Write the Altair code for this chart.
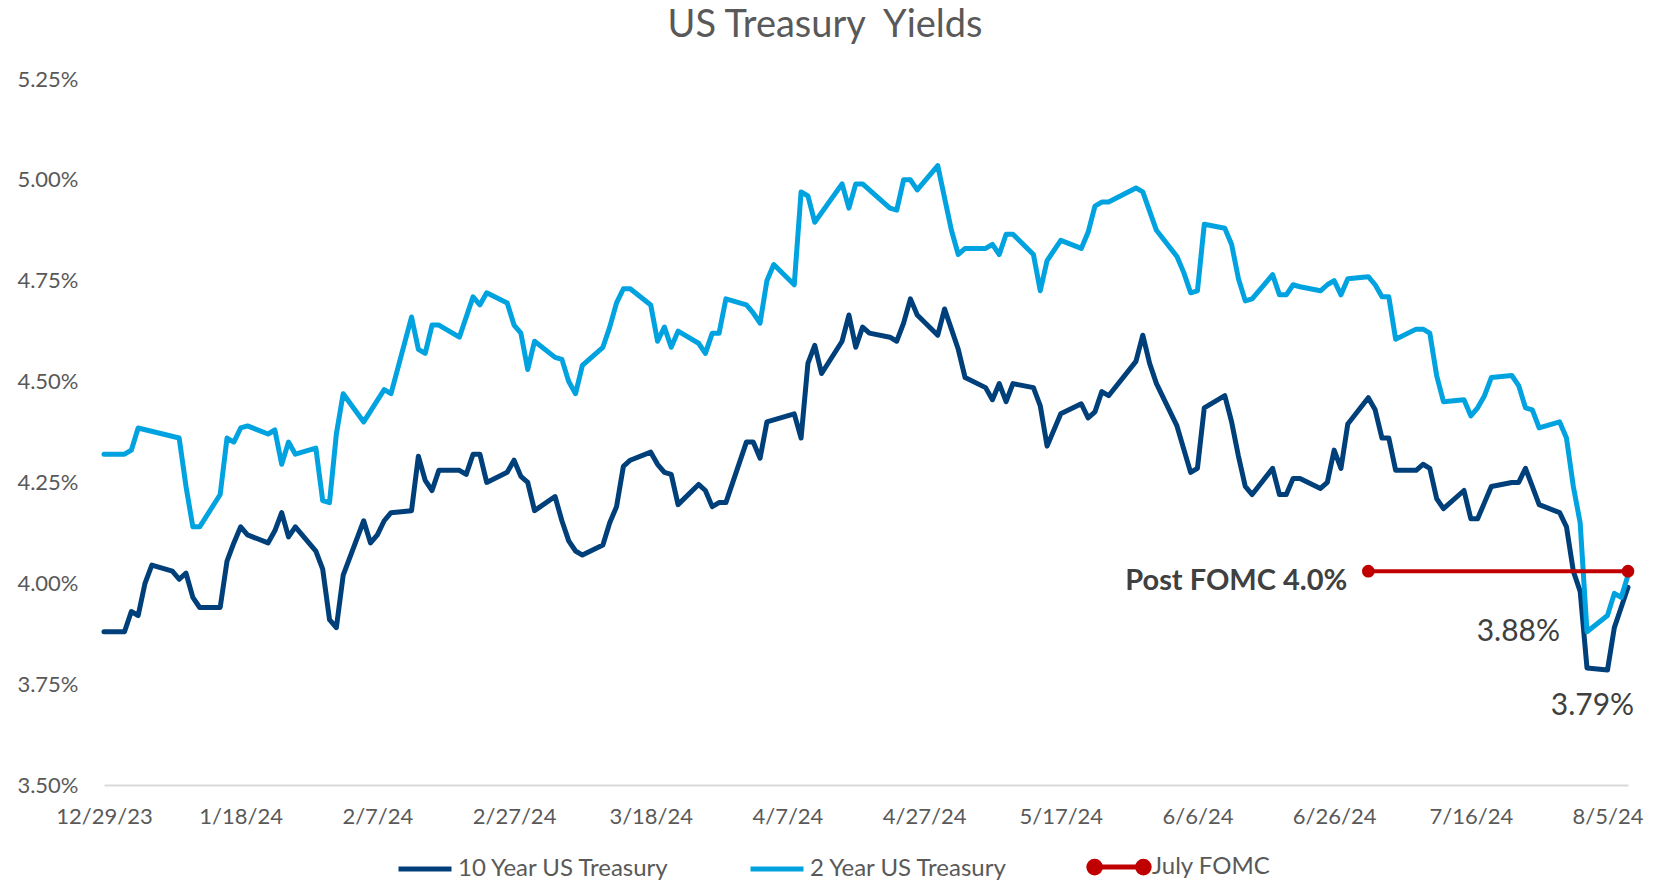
import altair as alt
import pandas as pd

# ---------------- data ----------------
dates_10y = [
    "2023-12-29", "2024-01-01", "2024-01-02", "2024-01-03", "2024-01-04", "2024-01-05",
    "2024-01-08", "2024-01-09", "2024-01-10", "2024-01-11", "2024-01-12", "2024-01-15",
    "2024-01-16", "2024-01-17", "2024-01-18", "2024-01-19", "2024-01-22", "2024-01-23",
    "2024-01-24", "2024-01-25", "2024-01-26", "2024-01-29", "2024-01-30", "2024-01-31",
    "2024-02-01", "2024-02-02", "2024-02-05", "2024-02-06", "2024-02-07", "2024-02-08",
    "2024-02-09", "2024-02-12", "2024-02-13", "2024-02-14", "2024-02-15", "2024-02-16",
    "2024-02-19", "2024-02-20", "2024-02-21", "2024-02-22", "2024-02-23", "2024-02-26",
    "2024-02-27", "2024-02-28", "2024-02-29",
    "2024-03-01", "2024-03-04", "2024-03-05", "2024-03-06", "2024-03-07", "2024-03-08",
    "2024-03-11", "2024-03-12", "2024-03-13", "2024-03-14", "2024-03-15", "2024-03-18",
    "2024-03-19", "2024-03-20", "2024-03-21", "2024-03-22", "2024-03-25", "2024-03-26",
    "2024-03-27", "2024-03-28", "2024-03-29",
    "2024-04-01", "2024-04-02", "2024-04-03", "2024-04-04", "2024-04-05", "2024-04-08",
    "2024-04-09", "2024-04-10", "2024-04-11", "2024-04-12", "2024-04-15", "2024-04-16",
    "2024-04-17", "2024-04-18", "2024-04-19", "2024-04-22", "2024-04-23", "2024-04-24",
    "2024-04-25", "2024-04-26", "2024-04-29", "2024-04-30",
    "2024-05-01", "2024-05-02", "2024-05-03", "2024-05-06", "2024-05-07", "2024-05-08",
    "2024-05-09", "2024-05-10", "2024-05-13", "2024-05-14", "2024-05-15", "2024-05-17",
    "2024-05-20", "2024-05-21", "2024-05-22", "2024-05-23", "2024-05-24", "2024-05-28",
    "2024-05-29", "2024-05-30", "2024-05-31",
    "2024-06-03", "2024-06-05", "2024-06-06", "2024-06-07", "2024-06-10", "2024-06-11",
    "2024-06-12", "2024-06-13", "2024-06-14", "2024-06-17", "2024-06-18", "2024-06-19",
    "2024-06-20", "2024-06-21", "2024-06-24", "2024-06-25", "2024-06-26", "2024-06-27",
    "2024-06-28",
    "2024-07-01", "2024-07-02", "2024-07-03", "2024-07-04", "2024-07-05", "2024-07-08",
    "2024-07-09", "2024-07-10", "2024-07-11", "2024-07-12", "2024-07-15", "2024-07-16",
    "2024-07-17", "2024-07-18", "2024-07-19", "2024-07-22", "2024-07-23", "2024-07-24",
    "2024-07-25", "2024-07-26", "2024-07-29", "2024-07-30", "2024-07-31",
    "2024-08-01", "2024-08-02", "2024-08-05", "2024-08-06", "2024-08-07", "2024-08-08",
]
yields_10y = [
    3.88, 3.88, 3.93, 3.92, 4.00, 4.045, 4.03, 4.01, 4.025, 3.965, 3.94, 3.94,
    4.055, 4.10, 4.14, 4.12, 4.10, 4.13, 4.175, 4.115, 4.14, 4.08, 4.035, 3.91,
    3.89, 4.02, 4.155, 4.10, 4.12, 4.155, 4.175, 4.18, 4.315, 4.255, 4.23, 4.28,
    4.28, 4.27, 4.32, 4.32, 4.25, 4.275, 4.305, 4.265, 4.25,
    4.18, 4.215, 4.155, 4.105, 4.08, 4.07, 4.095, 4.15, 4.19, 4.29, 4.305, 4.325,
    4.295, 4.275, 4.27, 4.195, 4.245, 4.23, 4.19, 4.20, 4.20,
    4.35, 4.35, 4.31, 4.40, 4.405, 4.42, 4.36, 4.545, 4.59, 4.52, 4.60, 4.665,
    4.585, 4.635, 4.62, 4.61, 4.60, 4.645, 4.705, 4.665, 4.615, 4.68,
    4.63, 4.58, 4.51, 4.485, 4.455, 4.495, 4.45, 4.495, 4.485, 4.44, 4.34, 4.42,
    4.445, 4.41, 4.425, 4.475, 4.465, 4.55, 4.615, 4.545, 4.495,
    4.39, 4.275, 4.285, 4.435, 4.465, 4.40, 4.315, 4.24, 4.22, 4.285, 4.22, 4.22,
    4.26, 4.26, 4.235, 4.25, 4.33, 4.285, 4.395,
    4.46, 4.43, 4.36, 4.36, 4.28, 4.28, 4.295, 4.285, 4.21, 4.185, 4.23, 4.16,
    4.16, 4.20, 4.24, 4.25, 4.25, 4.285, 4.24, 4.195, 4.175, 4.14, 4.03,
    3.98, 3.79, 3.785, 3.89, 3.94, 3.99,
]

dates_2y = [
    "2023-12-29", "2024-01-01", "2024-01-02", "2024-01-03", "2024-01-09", "2024-01-10",
    "2024-01-11", "2024-01-12", "2024-01-15", "2024-01-16", "2024-01-17", "2024-01-18",
    "2024-01-19", "2024-01-22", "2024-01-23", "2024-01-24", "2024-01-25", "2024-01-26",
    "2024-01-29", "2024-01-30", "2024-01-31",
    "2024-02-01", "2024-02-02", "2024-02-05", "2024-02-08", "2024-02-09", "2024-02-12",
    "2024-02-13", "2024-02-14", "2024-02-15", "2024-02-16", "2024-02-19", "2024-02-21",
    "2024-02-22", "2024-02-23", "2024-02-26", "2024-02-27", "2024-02-28", "2024-02-29",
    "2024-03-01", "2024-03-04", "2024-03-05", "2024-03-06", "2024-03-07", "2024-03-08",
    "2024-03-11", "2024-03-12", "2024-03-13", "2024-03-14", "2024-03-15", "2024-03-18",
    "2024-03-19", "2024-03-20", "2024-03-21", "2024-03-22", "2024-03-25", "2024-03-26",
    "2024-03-27", "2024-03-28", "2024-03-29",
    "2024-04-01", "2024-04-02", "2024-04-03", "2024-04-04", "2024-04-05", "2024-04-08",
    "2024-04-09", "2024-04-10", "2024-04-11", "2024-04-15", "2024-04-16", "2024-04-17",
    "2024-04-18", "2024-04-22", "2024-04-23", "2024-04-24", "2024-04-25", "2024-04-26",
    "2024-04-29",
    "2024-05-01", "2024-05-02", "2024-05-03", "2024-05-06", "2024-05-07", "2024-05-08",
    "2024-05-09", "2024-05-10", "2024-05-13", "2024-05-14", "2024-05-15", "2024-05-17",
    "2024-05-20", "2024-05-21", "2024-05-22", "2024-05-23", "2024-05-24", "2024-05-28",
    "2024-05-29", "2024-05-31",
    "2024-06-03", "2024-06-04", "2024-06-05", "2024-06-06", "2024-06-07", "2024-06-10",
    "2024-06-11", "2024-06-12", "2024-06-13", "2024-06-14", "2024-06-17", "2024-06-18",
    "2024-06-19", "2024-06-20", "2024-06-21", "2024-06-24", "2024-06-25", "2024-06-26",
    "2024-06-27", "2024-06-28",
    "2024-07-01", "2024-07-02", "2024-07-03", "2024-07-04", "2024-07-05", "2024-07-08",
    "2024-07-09", "2024-07-10", "2024-07-11", "2024-07-12", "2024-07-15", "2024-07-16",
    "2024-07-17", "2024-07-18", "2024-07-19", "2024-07-22", "2024-07-23", "2024-07-24",
    "2024-07-25", "2024-07-26", "2024-07-29", "2024-07-30", "2024-07-31",
    "2024-08-01", "2024-08-02", "2024-08-05", "2024-08-06", "2024-08-07", "2024-08-08",
]
yields_2y = [
    4.32, 4.32, 4.33, 4.385, 4.36, 4.24, 4.14, 4.14, 4.22, 4.36, 4.35, 4.385,
    4.39, 4.37, 4.38, 4.295, 4.35, 4.32, 4.335, 4.205, 4.20,
    4.37, 4.47, 4.40, 4.48, 4.47, 4.66, 4.58, 4.57, 4.64, 4.64, 4.61, 4.71,
    4.69, 4.72, 4.695, 4.64, 4.62, 4.53,
    4.60, 4.56, 4.555, 4.50, 4.47, 4.54, 4.585, 4.635, 4.695, 4.73, 4.73, 4.69,
    4.60, 4.635, 4.585, 4.625, 4.595, 4.57, 4.62, 4.62, 4.705,
    4.69, 4.67, 4.645, 4.75, 4.79, 4.74, 4.97, 4.96, 4.895, 4.99, 4.93, 4.99,
    4.99, 4.93, 4.925, 5.00, 5.00, 4.975, 5.035,
    4.875, 4.815, 4.83, 4.83, 4.84, 4.815, 4.865, 4.865, 4.815, 4.725, 4.80, 4.85,
    4.83, 4.87, 4.935, 4.945, 4.945, 4.98, 4.97, 4.875,
    4.81, 4.77, 4.72, 4.725, 4.89, 4.88, 4.84, 4.755, 4.70, 4.705, 4.765, 4.715,
    4.715, 4.74, 4.735, 4.725, 4.74, 4.75, 4.715, 4.755,
    4.76, 4.74, 4.71, 4.71, 4.605, 4.63, 4.63, 4.62, 4.515, 4.45, 4.455, 4.415,
    4.435, 4.465, 4.51, 4.515, 4.49, 4.435, 4.43, 4.385, 4.40, 4.36, 4.24,
    4.15, 3.88, 3.92, 3.975, 3.965, 4.02,
]

fomc_dates = ["2024-07-01", "2024-08-08"]
fomc_levels = [4.03, 4.03]

series_names = ["10 Year US Treasury", "2 Year US Treasury", "July FOMC"]
series_colors = ["#00407A", "#00A3E0", "#C00000"]

tick_dates = ["2023-12-29", "2024-01-18", "2024-02-07", "2024-02-27", "2024-03-18",
              "2024-04-07", "2024-04-27", "2024-05-17", "2024-06-06", "2024-06-26",
              "2024-07-16", "2024-08-05"]
y_ticks = [3.5, 3.75, 4.0, 4.25, 4.5, 4.75, 5.0, 5.25]
x_domain = ["2023-12-29", "2024-08-08"]
y_domain = [3.5, 5.25]

post_label = ["Post FOMC 4.0%"]
post_anchor_date = ["2024-07-01"]
post_anchor_val = [4.03]
low2_label = ["3.88%"]
low2_date = ["2024-08-02"]
low2_val = [3.88]
low10_label = ["3.79%"]
low10_date = ["2024-08-05"]
low10_val = [3.79]

title_text = "US Treasury\u00a0 Yields"

assert len(dates_10y) == len(yields_10y)
assert len(dates_2y) == len(yields_2y)


def ms(d):
    return int(pd.Timestamp(d, tz="UTC").value // 10**6)


lines_df = pd.concat([
    pd.DataFrame({"date": dates_10y, "value": yields_10y, "series": series_names[0]}),
    pd.DataFrame({"date": dates_2y, "value": yields_2y, "series": series_names[1]}),
], ignore_index=True)
fomc_df = pd.DataFrame({"date": fomc_dates, "value": fomc_levels, "series": series_names[2]})

FONT = "Lato"
GRAY = "#595959"
DARK = "#404040"

x_enc = alt.X(
    "date:T",
    scale=alt.Scale(type="utc", domain=[ms(d) for d in x_domain]),
    axis=alt.Axis(
        values=[ms(d) for d in tick_dates], format="%-m/%-d/%y", title=None,
        ticks=False, tickSize=0, grid=False, domain=True, domainColor="#D9D9D9",
        domainWidth=2, labelFont=FONT, labelFontSize=22, labelColor=GRAY,
        labelPadding=21, labelFlush=False, labelOverlap=False,
    ),
)
y_enc = alt.Y(
    "value:Q",
    scale=alt.Scale(domain=y_domain, nice=False, zero=False),
    axis=alt.Axis(
        values=y_ticks, labelExpr="format(datum.value, '.2f') + '%'", title=None,
        ticks=False, tickSize=0, grid=False, domain=False, labelFont=FONT,
        labelFontSize=22, labelColor=GRAY, labelPadding=26,
    ),
)

color_scale = alt.Scale(domain=series_names, range=series_colors)
fomc_path = ("M-0.92,0L0.92,0"
             "M-1.14,0A0.22,0.22,0,1,0,-0.70,0A0.22,0.22,0,1,0,-1.14,0Z"
             "M0.70,0A0.22,0.22,0,1,0,1.14,0A0.22,0.22,0,1,0,0.70,0Z")
legend = alt.Legend(
    title=None, orient="none", legendX=292, legendY=759, direction="horizontal",
    labelFont=FONT, labelFontSize=24, labelColor=GRAY, labelLimit=0, symbolSize=2809,
    symbolStrokeWidth=5, labelOffset=4, columnPadding=70, padding=0,
    symbolType=alt.ExprRef(expr=f"datum.value === 'July FOMC' ? '{fomc_path}' : 'stroke'"),
    symbolFillColor=alt.ExprRef(expr="datum.value === 'July FOMC' ? '#C00000' : 'transparent'"),
)

lines = alt.Chart(lines_df).mark_line(strokeWidth=5, strokeJoin="round", strokeCap="round").encode(
    x=x_enc, y=y_enc,
    color=alt.Color("series:N", scale=color_scale, legend=legend),
)
fomc_line = alt.Chart(fomc_df).mark_line(strokeWidth=4).encode(
    x=x_enc, y=y_enc,
    color=alt.Color("series:N", scale=color_scale, legend=legend),
)
fomc_pts = alt.Chart(fomc_df).mark_circle(size=160, opacity=1).encode(
    x=x_enc, y=y_enc, color=alt.value("#C00000"),
)

post_txt = alt.Chart(pd.DataFrame({"date": post_anchor_date, "value": post_anchor_val, "label": post_label})).mark_text(
    align="right", baseline="middle", dx=-21, dy=10, font=FONT, fontSize=29,
    fontWeight="bold", color=DARK,
).encode(x=x_enc, y=y_enc, text="label:N")
low2_txt = alt.Chart(pd.DataFrame({"date": low2_date, "value": low2_val, "label": low2_label})).mark_text(
    align="right", baseline="middle", dx=-27, dy=0, font=FONT, fontSize=30, color=DARK,
).encode(x=x_enc, y=y_enc, text="label:N")
low10_txt = alt.Chart(pd.DataFrame({"date": low10_date, "value": low10_val, "label": low10_label})).mark_text(
    align="center", baseline="middle", dx=-15, dy=38, font=FONT, fontSize=30, color=DARK,
).encode(x=x_enc, y=y_enc, text="label:N")

chart = alt.layer(lines, fomc_line, fomc_pts, post_txt, low2_txt, low10_txt).properties(
    width=1524, height=706,
    title=alt.Title(title_text, font=FONT, fontSize=38, fontWeight="normal", color=GRAY,
                    anchor="middle", dx=-41, offset=23),
    padding={"left": 104, "top": 79, "right": 30, "bottom": 98},
    autosize=alt.AutoSizeParams(type="none"),
    background="white",
).configure_view(stroke=None)

chart.save("out.html", embed_options={"renderer": "svg", "actions": False})
